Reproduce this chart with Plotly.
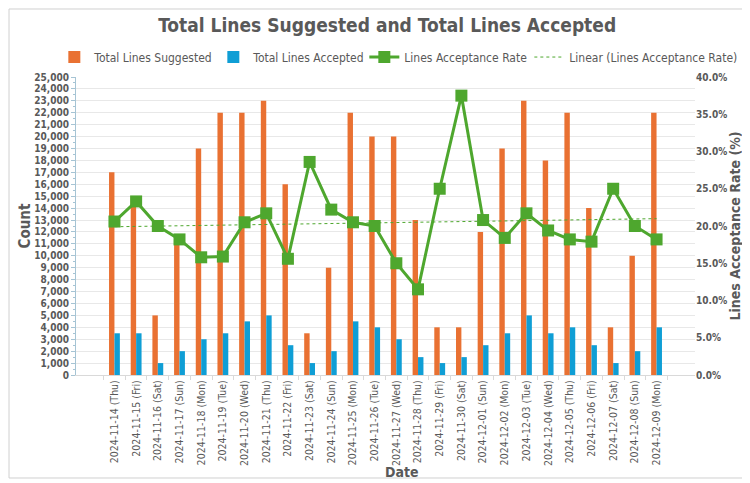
import numpy as np
import plotly.graph_objects as go

# Data
dates = [
    "2024-11-14 (Thu)", "2024-11-15 (Fri)", "2024-11-16 (Sat)", "2024-11-17 (Sun)",
    "2024-11-18 (Mon)", "2024-11-19 (Tue)", "2024-11-20 (Wed)", "2024-11-21 (Thu)",
    "2024-11-22 (Fri)", "2024-11-23 (Sat)", "2024-11-24 (Sun)", "2024-11-25 (Mon)",
    "2024-11-26 (Tue)", "2024-11-27 (Wed)", "2024-11-28 (Thu)", "2024-11-29 (Fri)",
    "2024-11-30 (Sat)", "2024-12-01 (Sun)", "2024-12-02 (Mon)", "2024-12-03 (Tue)",
    "2024-12-04 (Wed)", "2024-12-05 (Thu)", "2024-12-06 (Fri)", "2024-12-07 (Sat)",
    "2024-12-08 (Sun)", "2024-12-09 (Mon)",
]
lines_suggested = [
    17000, 15000, 5000, 11000, 19000, 22000, 22000, 23000, 16000, 3500, 9000, 22000,
    20000, 20000, 13000, 4000, 4000, 12000, 19000, 23000, 18000, 22000, 14000, 4000,
    10000, 22000,
]
lines_accepted = [
    3500, 3500, 1000, 2000, 3000, 3500, 4500, 5000, 2500, 1000, 2000, 4500,
    4000, 3000, 1500, 1000, 1500, 2500, 3500, 5000, 3500, 4000, 2500, 1000,
    2000, 4000,
]
acceptance_rate = [
    0.206, 0.233, 0.200, 0.182, 0.158, 0.159, 0.205, 0.217, 0.156, 0.286, 0.222, 0.205,
    0.200, 0.150, 0.115, 0.250, 0.375, 0.208, 0.184, 0.217, 0.194, 0.182, 0.179, 0.250,
    0.200, 0.182,
]

ORANGE = "#E97132"
BLUE = "#0F9ED5"
GREEN = "#4EA72E"
TEXT = "#595959"
AXIS = "#A6C4D4"
FONT = "DejaVu Sans Condensed, Liberation Sans Narrow, sans-serif"

# Linear trendline (like Excel's "Linear" trendline)
idx = np.arange(len(acceptance_rate))
slope, intercept = np.polyfit(idx, acceptance_rate, 1)
trend = slope * idx + intercept

fig = go.Figure()

# legendwidth keeps the four legend entries on a single row
fig.add_trace(go.Bar(
    x=dates, y=lines_suggested, name="Total Lines Suggested",
    marker=dict(color=ORANGE, line=dict(width=0)),
    legendwidth=114,
))
fig.add_trace(go.Bar(
    x=dates, y=lines_accepted, name="Total Lines Accepted",
    marker=dict(color=BLUE, line=dict(width=0)),
    legendwidth=106,
))
fig.add_trace(go.Scatter(
    x=dates, y=acceptance_rate, name="Lines Acceptance Rate", yaxis="y2",
    mode="lines+markers",
    line=dict(color=GREEN, width=3),
    marker=dict(symbol="square", size=12, color=GREEN),
    legendwidth=120,
))
fig.add_trace(go.Scatter(
    x=dates, y=trend, name="Linear (Lines Acceptance Rate)", yaxis="y2",
    mode="lines",
    line=dict(color=GREEN, width=1, dash="dot"),
    legendwidth=164,
))

# the page body adds an 8px margin, so the figure is sized 8px smaller
fig.update_layout(
    width=742,
    height=475,
    paper_bgcolor="white",
    plot_bgcolor="white",
    font=dict(family=FONT, color=TEXT, size=12),
    title=dict(
        text="Total Lines Suggested and Total Lines Accepted",
        x=0.511, xanchor="center", y=0.964, yanchor="middle",
        font=dict(size=19, color=TEXT, family=FONT, weight="bold"),
    ),
    legend=dict(
        orientation="h", x=-0.035, xanchor="left",
        y=1.067, yanchor="middle",
        font=dict(size=12, color=TEXT), traceorder="normal",
        itemwidth=30, tracegroupgap=0,
    ),
    barmode="group",
    bargap=0.5,
    bargroupgap=0,
    margin=dict(l=68, r=55, t=69, b=108),
    xaxis=dict(
        tickangle=-90,
        tickfont=dict(size=10.5, color=TEXT),
        showgrid=False,
        showline=True, linecolor="#D9D9D9",
        ticks="outside", ticklen=4, tickcolor="#D9D9D9",
        tickson="boundaries",
        automargin=False,
    ),
    yaxis=dict(
        title=dict(text="Count", font=dict(size=15, weight="bold", color=TEXT), standoff=0),
        range=[0, 25000], dtick=1000, tickformat=",d",
        tickfont=dict(size=10, color=TEXT, weight="bold"),
        showgrid=True, gridcolor="#E8E8E8",
        showline=True, linecolor=AXIS,
        ticks="outside", ticklen=4, tickcolor=AXIS,
        minor=dict(dtick=500, ticks="outside", ticklen=2, tickcolor=AXIS, showgrid=False),
        zeroline=False,
        automargin=False,
    ),
    yaxis2=dict(
        title=dict(text="Lines Acceptance Rate (%)", font=dict(size=14, weight="bold", color=TEXT), standoff=2),
        overlaying="y", side="right",
        range=[0, 0.40], dtick=0.05, tickformat=".1%",
        tickfont=dict(size=10, color=TEXT, weight="bold"),
        showgrid=False, zeroline=False,
        automargin=False,
    ),
    # x axis title as an annotation so it sits just under the tick labels
    annotations=[dict(
        text="Date", xref="paper", yref="paper", x=0.527, y=-0.324,
        xanchor="center", yanchor="middle", showarrow=False,
        font=dict(size=14, weight="bold", color=TEXT),
    )],
    shapes=[dict(
        type="rect", xref="paper", yref="paper",
        x0=-0.1082, x1=1.0808, y0=-0.3456, y1=1.2282,
        line=dict(color="#D0D0D0", width=1),
    )],
)

fig.write_html("out.html")
